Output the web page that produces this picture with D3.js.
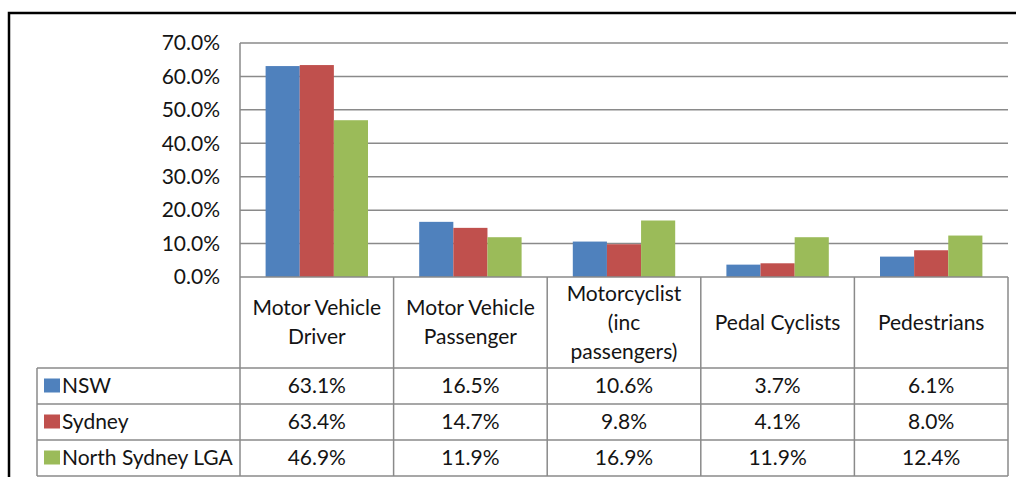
<!DOCTYPE html>
<html>
<head>
<meta charset="utf-8">
<script src="https://cdn.jsdelivr.net/npm/d3@7"></script>
<style>
  body { margin: 0; background: #fff; }
  svg text { font-family: Lato, "Open Sans", sans-serif; fill: #141414; }
</style>
</head>
<body>
<svg></svg>
<script>
let width = 1016;
let height = 477;

let categories = [
  ["Motor Vehicle", "Driver"],
  ["Motor Vehicle", "Passenger"],
  ["Motorcyclist", "(inc", "passengers)"],
  ["Pedal Cyclists"],
  ["Pedestrians"]
];
let seriesNames = ["NSW", "Sydney", "North Sydney LGA"];
let nsw = [63.1, 16.5, 10.6, 3.7, 6.1];
let sydney = [63.4, 14.7, 9.8, 4.1, 8.0];
let northSydney = [46.9, 11.9, 16.9, 11.9, 12.4];
let yTicks = [0, 10, 20, 30, 40, 50, 60, 70];
let colors = ["#4f81bd", "#c0504d", "#9bbb59"];

let series = [nsw, sydney, northSydney];
let fontSize = "21px";

let svg = d3.select("svg")
            .attr("width", width)
            .attr("height", height);

let plotLeft = 240, plotRight = 1008, plotTop = 43, plotBottom = 277;
let headerBottom = 368;
let rowH = 36;
let legendLeft = 37;
let gridColor = "#8a8a8a";

// outer frame
svg.append("path")
   .attr("d", "M9,477 V13 H1016")
   .attr("fill", "none")
   .attr("stroke", "#000")
   .attr("stroke-width", 2.5);

let xScale = d3.scaleBand()
               .domain(d3.range(categories.length))
               .range([plotLeft, plotRight]);

// gap width 150% -> each side 0.75 of a bar
let inner = d3.scaleBand()
              .domain(d3.range(series.length))
              .range([xScale.bandwidth() * 0.75 / 4.5, xScale.bandwidth() * (1 - 0.75 / 4.5)]);

let yScale = d3.scaleLinear()
               .domain([0, 70])
               .range([plotBottom, plotTop]);

// gridlines
svg.append("g")
   .selectAll("line")
   .data(yTicks.slice(1))
   .enter()
   .append("line")
   .attr("x1", plotLeft)
   .attr("x2", plotRight)
   .attr("y1", (d) => yScale(d))
   .attr("y2", (d) => yScale(d))
   .attr("stroke", gridColor)
   .attr("stroke-width", 1.5);

// y axis labels
let yAxis = svg.append("g")
   .attr("transform", "translate(" + plotLeft + ",0)")
   .call(d3.axisLeft(yScale).tickValues(yTicks).tickSize(0).tickPadding(20)
           .tickFormat((d) => d.toFixed(1) + "%"));
yAxis.select(".domain").remove();
yAxis.selectAll("text")
     .style("font-size", fontSize)
     .style("font-family", "Lato, sans-serif")
     .attr("fill", "#141414");

// bars
series.forEach((vals, si) => {
  svg.append("g")
     .selectAll("rect")
     .data(vals)
     .enter()
     .append("rect")
     .attr("x", (d, i) => xScale(i) + inner(si))
     .attr("y", (d) => yScale(d))
     .attr("width", inner.bandwidth())
     .attr("height", (d) => plotBottom - yScale(d))
     .attr("fill", colors[si]);
});

// plot left line
svg.append("line")
   .attr("x1", plotLeft).attr("x2", plotLeft)
   .attr("y1", plotTop).attr("y2", plotBottom)
   .attr("stroke", gridColor).attr("stroke-width", 1.5);

// data table
let tableBottom = headerBottom + rowH * series.length;
let tbl = svg.append("g")
             .attr("stroke", gridColor)
             .attr("stroke-width", 1.5)
             .attr("fill", "none");

tbl.append("line").attr("x1", plotLeft).attr("x2", plotRight).attr("y1", plotBottom).attr("y2", plotBottom);
d3.range(series.length + 1).forEach((r) => {
  let y = headerBottom + r * rowH;
  tbl.append("line").attr("x1", legendLeft).attr("x2", plotRight).attr("y1", y).attr("y2", y);
});
d3.range(categories.length + 1).forEach((c) => {
  let x = plotLeft + c * xScale.bandwidth();
  tbl.append("line").attr("x1", x).attr("x2", x).attr("y1", plotBottom).attr("y2", tableBottom);
});
tbl.append("line").attr("x1", legendLeft).attr("x2", legendLeft).attr("y1", headerBottom).attr("y2", tableBottom);

// header labels
categories.forEach((lines, i) => {
  let cx = xScale(i) + xScale.bandwidth() / 2;
  let midY = (plotBottom + headerBottom) / 2;
  let lh = 29;
  let t = svg.append("text")
             .attr("x", cx)
             .attr("text-anchor", "middle")
             .style("font-size", fontSize);
  lines.forEach((ln, k) => {
    t.append("tspan")
     .attr("x", cx)
     .attr("y", midY + (k - (lines.length - 1) / 2) * lh)
     .attr("dy", "0.35em")
     .text(ln);
  });
});

// rows
series.forEach((vals, si) => {
  let cy = headerBottom + si * rowH + rowH / 2;
  svg.append("rect")
     .attr("x", 44).attr("y", cy - 7.5)
     .attr("width", 16).attr("height", 14)
     .attr("fill", colors[si]);
  svg.append("text")
     .attr("x", 62).attr("y", cy).attr("dy", "0.35em")
     .style("font-size", fontSize)
     .text(seriesNames[si]);
  svg.append("g")
     .selectAll("text")
     .data(vals)
     .enter()
     .append("text")
     .attr("x", (d, i) => xScale(i) + xScale.bandwidth() / 2)
     .attr("y", cy)
     .attr("dy", "0.35em")
     .attr("text-anchor", "middle")
     .style("font-size", fontSize)
     .text((d) => d.toFixed(1) + "%");
});
</script>
</body>
</html>
